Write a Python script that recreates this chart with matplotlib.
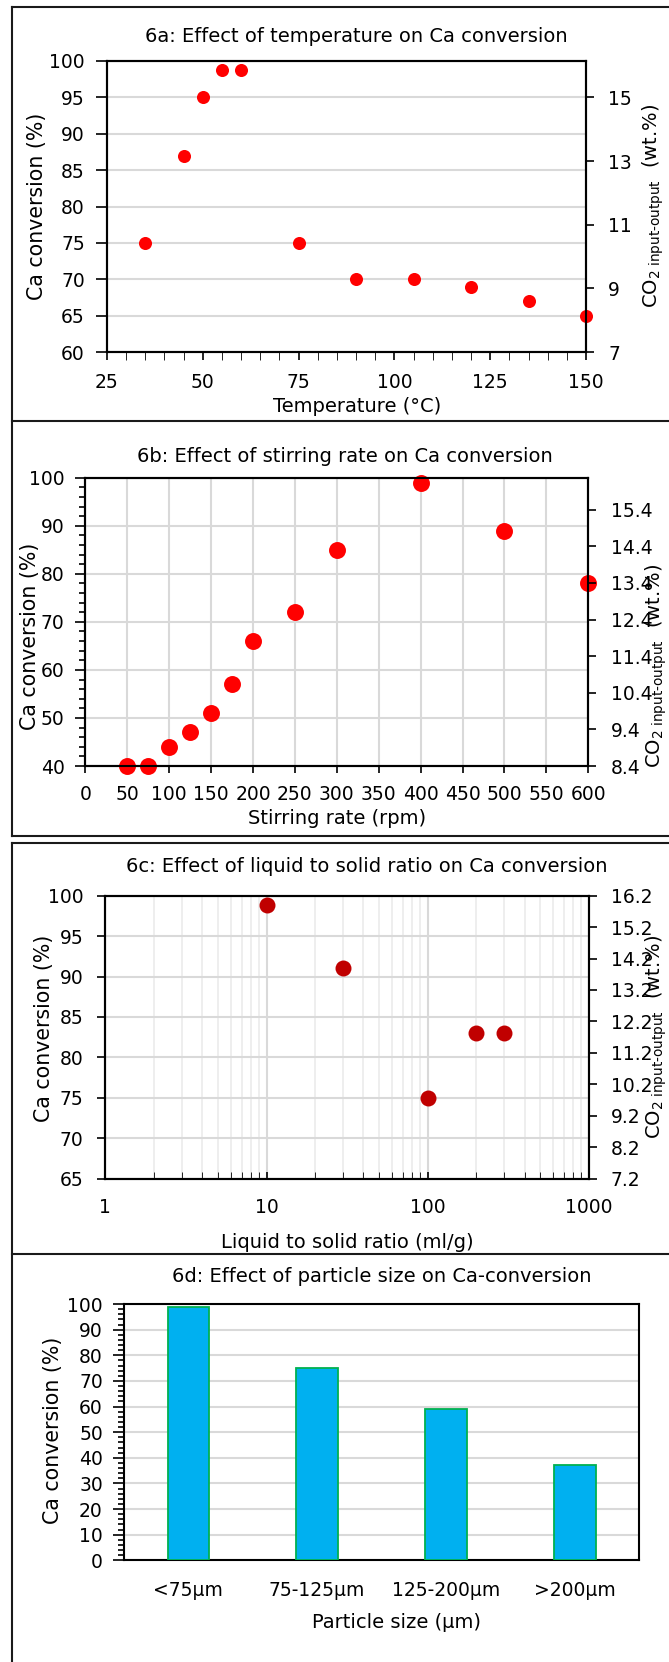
import matplotlib
matplotlib.use("Agg")
import matplotlib.pyplot as plt
from matplotlib.ticker import MultipleLocator, NullFormatter, FixedLocator, FixedFormatter, LogLocator
from matplotlib.lines import Line2D

plt.rcParams['font.family'] = ['DejaVu Sans']
plt.rcParams['mathtext.fontset'] = 'dejavusans'

# ---------------- data ----------------
temp_c = [35, 45, 50, 55, 60, 75, 90, 105, 120, 135, 150]
temp_conv = [75, 87, 95, 98.8, 98.8, 75, 70, 70, 69, 67, 65]

stir_rpm = [50, 75, 100, 125, 150, 175, 200, 250, 300, 400, 500, 600]
stir_conv = [40, 40, 44, 47, 51, 57, 66, 72, 85, 98.8, 89, 78]

ls_ratio = [10, 30, 100, 200, 300]
ls_conv = [98.8, 91, 75, 83, 83]

size_cats = ['<75µm', '75-125µm', '125-200µm', '>200µm']
size_conv = [99, 75, 59, 37]

titles = ['6a: Effect of temperature on Ca conversion',
          '6b: Effect of stirring rate on Ca conversion',
          '6c: Effect of liquid to solid ratio on Ca conversion',
          '6d: Effect of particle size on Ca-conversion']
xlabels = ['Temperature (°C)', 'Stirring rate (rpm)',
           'Liquid to solid ratio (ml/g)', 'Particle size (µm)']
ylabel = 'Ca conversion (%)'
co2_label = r'CO$_{\mathregular{2\ input‐output}}$  (wt.%)'

W, H = 669, 1662
fig = plt.figure(figsize=(W / 100, H / 100), dpi=100)

def rect(l, t, r, b):
    return [l / W, 1 - b / H, (r - l) / W, (b - t) / H]

def fx(x):
    return x / W

def fy(y):
    return 1 - y / H

FS = 13.5
TFS = 14
YFS = 14.8
GRID = '#D9D9D9'
SPW = 1.5

def style(ax):
    for s in ax.spines.values():
        s.set_linewidth(SPW)
        s.set_color('black')
    ax.tick_params(labelsize=FS, width=1.2, colors='black')

# ---------------- panel a ----------------
axa = fig.add_axes(rect(107, 61, 586, 352))
axa.plot(temp_c, temp_conv, 'o', color='#FF0000', ms=9.4, mec='none', clip_on=False, zorder=5)
axa.set_xlim(25, 150)
axa.set_ylim(60, 100)
axa.xaxis.set_major_locator(MultipleLocator(25))
axa.xaxis.set_minor_locator(MultipleLocator(5))
axa.yaxis.set_major_locator(MultipleLocator(5))
axa.yaxis.grid(True, color=GRID, lw=1.5)
axa.set_axisbelow(True)
style(axa)
axa.tick_params(axis='x', which='both', direction='out', length=6, pad=9)
axa.tick_params(axis='y', which='major', direction='out', length=8, pad=8)
axa2 = axa.twinx()
axa2.set_ylim(7, 7 + 40 * 8 / 35)
axa2.set_yticks([7, 9, 11, 13, 15])
style(axa2)
axa2.tick_params(axis='y', direction='out', length=6, pad=10)

# ---------------- panel b ----------------
axb = fig.add_axes(rect(85.3, 477.7, 588.3, 766))
axb.plot(stir_rpm, stir_conv, 'o', color='#FF0000', ms=12.2, mec='none', clip_on=False, zorder=5)
axb.set_xlim(0, 600)
axb.set_ylim(40, 100)
axb.xaxis.set_major_locator(MultipleLocator(50))
axb.yaxis.set_major_locator(MultipleLocator(10))
axb.yaxis.set_minor_locator(MultipleLocator(2))
axb.grid(True, which='major', color=GRID, lw=1.5)
axb.set_axisbelow(True)
style(axb)
axb.tick_params(axis='x', direction='out', length=5, pad=9)
axb.tick_params(axis='y', which='major', direction='out', length=7, pad=8)
axb.tick_params(axis='y', which='minor', direction='out', length=4, width=1.2)
axb2 = axb.twinx()
axb2.set_ylim(8.4, 8.4 + 288.3 / 36.6)
axb2.set_yticks([8.4, 9.4, 10.4, 11.4, 12.4, 13.4, 14.4, 15.4])
axb2.set_yticklabels(['8.4', '9.4', '10.4', '11.4', '12.4', '13.4', '14.4', '15.4'])
style(axb2)
axb2.tick_params(axis='y', direction='out', length=6, pad=10)

# ---------------- panel c ----------------
axc = fig.add_axes(rect(105.4, 895.7, 588.7, 1178.5))
axc.plot(ls_ratio, ls_conv, 'o', color='#C00000', ms=11.5, mec='none', clip_on=False, zorder=5)
axc.set_xscale('log')
axc.set_xlim(1, 1000)
axc.set_ylim(65, 100)
axc.xaxis.set_major_locator(FixedLocator([1, 10, 100, 1000]))
axc.xaxis.set_major_formatter(FixedFormatter(['1', '10', '100', '1000']))
axc.xaxis.set_minor_locator(LogLocator(base=10, subs=range(2, 10)))
axc.xaxis.set_minor_formatter(NullFormatter())
axc.yaxis.set_major_locator(MultipleLocator(5))
axc.grid(True, which='major', color=GRID, lw=1.5)
axc.xaxis.grid(True, which='minor', color='#EBEBEB', lw=1.2)
axc.set_axisbelow(True)
style(axc)
axc.tick_params(axis='x', which='both', direction='in', length=5, pad=14)
axc.tick_params(axis='y', direction='out', length=6, pad=10)
axc2 = axc.twinx()
axc2.set_ylim(7.2, 16.2)
c_right = [7.2, 8.2, 9.2, 10.2, 11.2, 12.2, 13.2, 14.2, 15.2, 16.2]
axc2.set_yticks(c_right)
axc2.set_yticklabels([f'{v:.1f}' for v in c_right])
style(axc2)
axc2.tick_params(axis='y', direction='out', length=6, pad=10)

# ---------------- panel d ----------------
axd = fig.add_axes(rect(123.7, 1304, 639.5, 1560.3))
xpos = list(range(len(size_cats)))
axd.bar(xpos, size_conv, width=0.32, color='#00B0F0', edgecolor='#00B050', lw=1.3, zorder=3)
axd.set_xlim(-0.5, len(size_cats) - 0.5)
axd.set_ylim(0, 100)
axd.set_xticks(xpos)
axd.set_xticklabels(size_cats)
axd.yaxis.set_major_locator(MultipleLocator(10))
axd.yaxis.set_minor_locator(MultipleLocator(2))
axd.yaxis.grid(True, which='major', color=GRID, lw=1.5)
axd.set_axisbelow(True)
style(axd)
axd.tick_params(axis='x', length=0, pad=15)
axd.tick_params(axis='y', which='major', direction='out', length=8, pad=7)
axd.tick_params(axis='y', which='minor', direction='out', length=4, width=1.2)

# ---------------- texts ----------------
title_pos = [(356, 37), (345, 457), (367, 866), (382, 1277)]
xlab_pos = [(357, 407), (337, 819), (347, 1242), (397, 1623)]
ylab_pos = [(37, 206), (30, 636), (44, 1028), (53, 1430)]
co2_pos = [(653, 206), (656, 666), (656, 1037)]
for (x, y), t in zip(title_pos, titles):
    fig.text(fx(x), fy(y), t, ha='center', va='center', fontsize=TFS)
for (x, y), t in zip(xlab_pos, xlabels):
    fig.text(fx(x), fy(y), t, ha='center', va='center', fontsize=TFS)
for (x, y) in ylab_pos:
    fig.text(fx(x), fy(y), ylabel, ha='center', va='center', rotation=90, fontsize=YFS)
for (x, y) in co2_pos:
    fig.text(fx(x), fy(y), co2_label, ha='center', va='center', rotation=90, fontsize=TFS)

# ---------------- panel frames ----------------
BC = '#1a1a1a'
BW = 1.5
for y in [7, 421, 836, 843, 1254]:
    fig.add_artist(Line2D([fx(12), 1.0], [fy(y), fy(y)], color=BC, lw=BW))
fig.add_artist(Line2D([fx(12), fx(12)], [fy(7), fy(836)], color=BC, lw=BW))
fig.add_artist(Line2D([fx(12), fx(12)], [fy(843), 0.0], color=BC, lw=BW))

fig.savefig('out.png', dpi=100, facecolor='white')
